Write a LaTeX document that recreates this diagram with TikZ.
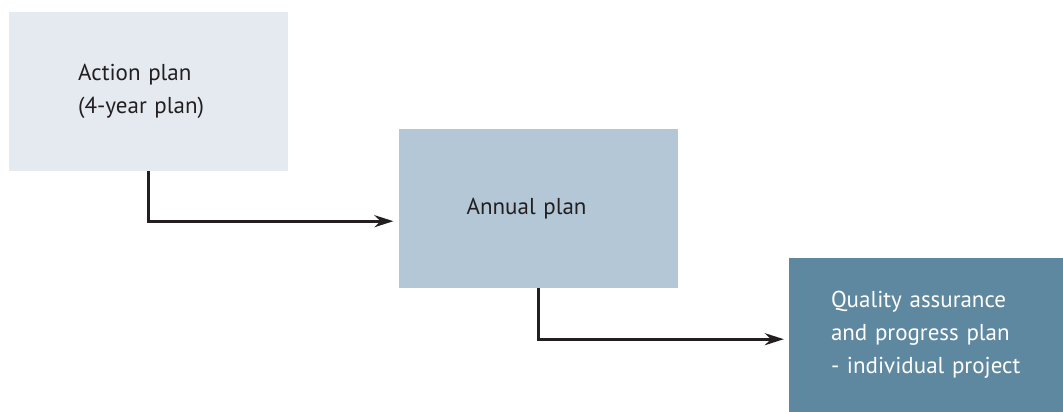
\documentclass[tikz,border=0pt]{standalone}
\usepackage{fontspec}
\setmainfont{PT Sans}
\usepackage{xcolor}
\usepackage{tikz}
\usetikzlibrary{arrows.meta, positioning, calc}

\definecolor{planlight}{HTML}{E5EAF1}
\definecolor{planmid}{HTML}{B3C7D6}
\definecolor{plandark}{HTML}{5E87A0}
\definecolor{inkgray}{HTML}{231F20}

\begin{document}
\begin{tikzpicture}[
    plan/.style={rectangle, draw=none, minimum width=279pt, minimum height=159pt, align=left, text=inkgray, font=\fontsize{23pt}{33pt}\selectfont},
    longterm/.style={plan, fill=planlight, text width=141pt},
    yearly/.style={plan, fill=planmid, text width=143pt},
    project/.style={plan, fill=plandark, text=white, minimum width=275pt, minimum height=154pt, text width=191pt},
    line/.style={draw=inkgray, line width=2.8pt, -{Stealth[length=19pt, width=12pt]}, shorten >=5pt}]

    \useasboundingbox (0,0) rectangle (1063pt,-412pt);

    \node [longterm, anchor=north west] (action) at (9pt,-12pt) {Action plan\\(4-year plan)};
    \node [yearly, anchor=north west, below right=117pt and 110pt of action.north east] (annual) {Annual plan};
    \node [project, anchor=north west, below right=129pt and 111pt of annual.north east] (quality) {Quality assurance\\and progress plan\\- individual project};

    \path [line] (action.south) |- ([yshift=-12.5pt]annual.west);
    \path [line] (annual.south) |- ([yshift=-4pt]quality.west);
\end{tikzpicture}
\end{document}
